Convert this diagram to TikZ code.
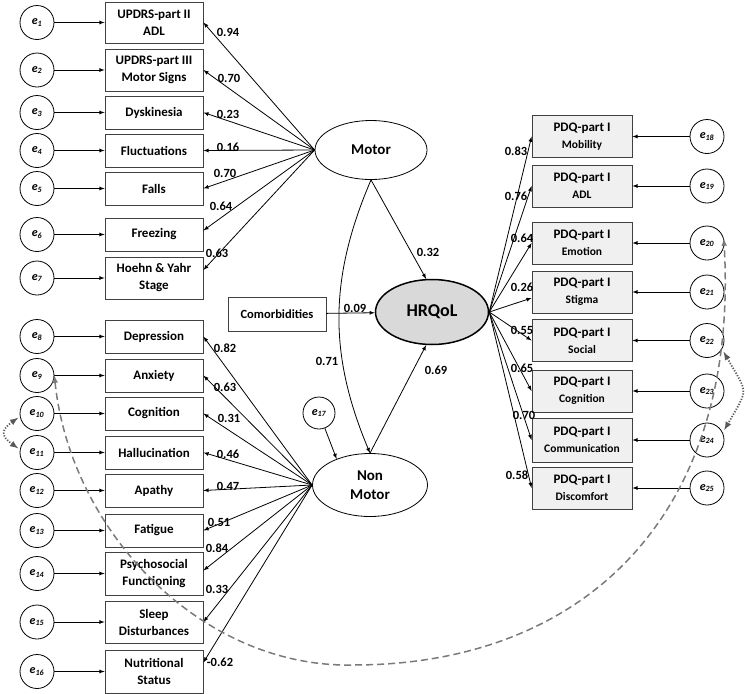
\documentclass[tikz,border=0pt]{standalone}
\usepackage{fontspec}
\setmainfont{Carlito}
\usetikzlibrary{shapes.geometric}
\tikzset{>=latex}
\tikzset{indicator/.style={draw=black!75, fill=white, minimum width=98pt, minimum height=33pt, align=center, inner sep=1pt, font=\bfseries\fontsize{13}{17}\selectfont}}
\tikzset{pdqbox/.style={indicator, fill=black!6, minimum width=100pt, minimum height=42pt}}
\tikzset{errterm/.style={draw, circle, fill=white, minimum size=34pt, inner sep=0pt, font=\bfseries\itshape\fontsize{12}{12}\selectfont}}
\tikzset{latent/.style={draw, ellipse, minimum width=112pt, minimum height=59pt, align=center, font=\bfseries\fontsize{15}{19}\selectfont}}
\tikzset{coef/.style={font=\bfseries\fontsize{12.5}{13}\selectfont, inner sep=0pt}}
\tikzset{residcov/.style={black!52, line width=1.5pt, dash pattern=on 7pt off 4pt}}
\tikzset{errcov/.style={black!65, line width=1.8pt, dash pattern=on 1.2pt off 1.6pt}}
\newcommand{\pdqitem}[1]{PDQ-part I\\{\fontsize{11.5}{13}\selectfont #1}}

\begin{document}
\begin{tikzpicture}[thick,x=1pt,y=-1pt]
      \useasboundingbox (0,0) rectangle (745,694);
      % motor indicators
      \node[indicator, minimum height=41pt] (adl) at (154,22.5) {UPDRS-part II\\ADL};
      \node[indicator, minimum height=42pt] (motorsigns) at (154,70) {UPDRS-part III\\Motor Signs};
      \node[indicator] (dysk) at (154,112.5) {Dyskinesia};
      \node[indicator] (fluct) at (154,150.5) {Fluctuations};
      \node[indicator] (falls) at (154,188.5) {Falls};
      \node[indicator] (freez) at (154,234.5) {Freezing};
      \node[indicator, minimum height=42pt] (hoehn) at (154,278) {Hoehn \& Yahr\\Stage};
      % non motor indicators
      \node[indicator] (depr) at (154,336.5) {Depression};
      \node[indicator] (anx) at (154,375.5) {Anxiety};
      \node[indicator] (cogn) at (154,413.5) {Cognition};
      \node[indicator] (halluc) at (154,452.5) {Hallucination};
      \node[indicator] (apathy) at (154,490.5) {Apathy};
      \node[indicator] (fatigue) at (154,530.5) {Fatigue};
      \node[indicator, minimum height=43pt] (psych) at (154,573.5) {Psychosocial\\Functioning};
      \node[indicator, minimum height=42pt] (sleep) at (154,622) {Sleep\\Disturbances};
      \node[indicator, minimum height=43pt] (nutri) at (154,671.5) {Nutritional\\Status};
      % left error terms
      \node[errterm] (e1) at (37,22.5) {e\textsubscript{1}};
      \node[errterm] (e2) at (37,70) {e\textsubscript{2}};
      \node[errterm] (e3) at (37,112.5) {e\textsubscript{3}};
      \node[errterm] (e4) at (37,150.5) {e\textsubscript{4}};
      \node[errterm] (e5) at (37,188.5) {e\textsubscript{5}};
      \node[errterm] (e6) at (37,234.5) {e\textsubscript{6}};
      \node[errterm] (e7) at (37,278) {e\textsubscript{7}};
      \node[errterm] (e8) at (37,336.5) {e\textsubscript{8}};
      \node[errterm] (e9) at (37,375.5) {e\textsubscript{9}};
      \node[errterm] (e10) at (37,413.5) {e\textsubscript{10}};
      \node[errterm] (e11) at (37,452.5) {e\textsubscript{11}};
      \node[errterm] (e12) at (37,490.5) {e\textsubscript{12}};
      \node[errterm] (e13) at (37,530.5) {e\textsubscript{13}};
      \node[errterm] (e14) at (37,573.5) {e\textsubscript{14}};
      \node[errterm] (e15) at (37,622) {e\textsubscript{15}};
      \node[errterm] (e16) at (37,671.5) {e\textsubscript{16}};
      % latent variables
      \node[latent] (motor) at (371,150) {Motor};
      \node[latent, minimum width=115pt, minimum height=63pt] (nonmotor) at (370,485) {Non\\Motor};
      \node[latent, fill=black!15, line width=1.5pt, minimum width=113pt, minimum height=65pt, font=\bfseries\fontsize{18}{20}\selectfont] (hrqol) at (432,312) {HRQoL};
      \node[indicator, minimum height=34pt, font=\bfseries\fontsize{12.5}{14}\selectfont] (comorb) at (277,314) {Comorbidities};
      \node[errterm, minimum size=32pt] (e17) at (319,413) {e\textsubscript{17}};
      % PDQ indicators
      \node[pdqbox] (mob) at (582,136.5) {\pdqitem{Mobility}};
      \node[pdqbox] (pdqadl) at (582,186) {\pdqitem{ADL}};
      \node[pdqbox] (emot) at (582,243) {\pdqitem{Emotion}};
      \node[pdqbox] (stig) at (582,292) {\pdqitem{Stigma}};
      \node[pdqbox] (soc) at (582,340.5) {\pdqitem{Social}};
      \node[pdqbox] (pdqcogn) at (582,391) {\pdqitem{Cognition}};
      \node[pdqbox, minimum height=44pt] (comm) at (582,440) {\pdqitem{Communication}};
      \node[pdqbox] (discomf) at (582,488) {\pdqitem{Discomfort}};
      % right error terms
      \node[errterm] (e18) at (707,136.5) {e\textsubscript{18}};
      \node[errterm] (e19) at (707,186) {e\textsubscript{19}};
      \node[errterm] (e20) at (707,243) {e\textsubscript{20}};
      \node[errterm] (e21) at (707,292) {e\textsubscript{21}};
      \node[errterm] (e22) at (707,340.5) {e\textsubscript{22}};
      \node[errterm] (e23) at (707,391) {e\textsubscript{23}};
      \node[errterm] (e24) at (707,440) {e\textsubscript{24}};
      \node[errterm] (e25) at (707,488) {e\textsubscript{25}};
      % error arrows
      \draw[->] (e1) -- (adl);
      \draw[->] (e2) -- (motorsigns);
      \draw[->] (e3) -- (dysk);
      \draw[->] (e4) -- (fluct);
      \draw[->] (e5) -- (falls);
      \draw[->] (e6) -- (freez);
      \draw[->] (e7) -- (hoehn);
      \draw[->] (e8) -- (depr);
      \draw[->] (e9) -- (anx);
      \draw[->] (e10) -- (cogn);
      \draw[->] (e11) -- (halluc);
      \draw[->] (e12) -- (apathy);
      \draw[->] (e13) -- (fatigue);
      \draw[->] (e14) -- (psych);
      \draw[->] (e15) -- (sleep);
      \draw[->] (e16) -- (nutri);
      \draw[->] (e18) -- (mob);
      \draw[->] (e19) -- (pdqadl);
      \draw[->] (e20) -- (emot);
      \draw[->] (e21) -- (stig);
      \draw[->] (e22) -- (soc);
      \draw[->] (e23) -- (pdqcogn);
      \draw[->] (e24) -- (comm);
      \draw[->] (e25) -- (discomf);
      \draw[->] (e17) -- (nonmotor.142);
      % loadings
      \draw[->] (motor.west) -- (adl.east);
      \draw[->] (motor.west) -- (motorsigns.east);
      \draw[->] (motor.west) -- (dysk.east);
      \draw[->] (motor.west) -- (fluct.east);
      \draw[->] (motor.west) -- (falls.east);
      \draw[->] (motor.west) -- ([yshift=4pt]freez.east);
      \draw[->] (motor.west) -- ([yshift=8pt]hoehn.east);
      \draw[->] (nonmotor.west) -- (depr.east);
      \draw[->] (nonmotor.west) -- (anx.east);
      \draw[->] (nonmotor.west) -- (cogn.east);
      \draw[->] (nonmotor.west) -- (halluc.east);
      \draw[->] (nonmotor.west) -- (apathy.east);
      \draw[->] (nonmotor.west) -- (fatigue.east);
      \draw[->] (nonmotor.west) -- ([yshift=3pt]psych.east);
      \draw[->] (nonmotor.west) -- (sleep.east);
      \draw[->] (nonmotor.west) -- ([yshift=9pt]nutri.east);
      \draw[->] (hrqol.east) -- (mob.west);
      \draw[->] (hrqol.east) -- (pdqadl.west);
      \draw[->] (hrqol.east) -- (emot.west);
      \draw[->] (hrqol.east) -- ([yshift=-6pt]stig.west);
      \draw[->] (hrqol.east) -- (soc.west);
      \draw[->] (hrqol.east) -- (pdqcogn.west);
      \draw[->] (hrqol.east) -- (comm.west);
      \draw[->] (hrqol.east) -- (discomf.west);
      % structural paths
      \draw[->] (motor.south) -- (hrqol.100);
      \draw[->] (motor.south) to[bend right=23] (nonmotor.north);
      \draw[->] (nonmotor.north) -- (hrqol.260);
      \draw[->] (comorb) -- (hrqol);
      % coefficients
      \node[coef] (k1) at (228,32) {0.94};
      \node[coef] (k2) at (229,78) {0.70};
      \node[coef] (k3) at (228,114) {0.23};
      \node[coef] (k4) at (228,147) {0.16};
      \node[coef] (k5) at (225,173) {0.70};
      \node[coef] (k6) at (221,206) {0.64};
      \node[coef] (k7) at (217,253) {0.63};
      \node[coef] (k8) at (225,348) {0.82};
      \node[coef] (k9) at (225,387) {0.63};
      \node[coef] (k10) at (229,418) {0.31};
      \node[coef] (k11) at (228,454) {0.46};
      \node[coef] (k12) at (228,486) {0.47};
      \node[coef] (k13) at (219,522) {0.51};
      \node[coef] (k14) at (217,548) {0.84};
      \node[coef] (k15) at (217,589) {0.33};
      \node[coef] (k16) at (220,662) {-0.62};
      \node[coef] (k17) at (516,151) {0.83};
      \node[coef] (k18) at (516,196) {0.76};
      \node[coef] (k19) at (522,238) {0.64};
      \node[coef] (k20) at (522,287) {0.26};
      \node[coef] (k21) at (522,330) {0.55};
      \node[coef] (k22) at (522,368) {0.65};
      \node[coef] (k23) at (524,415) {0.70};
      \node[coef] (k24) at (517,475) {0.58};
      \node[coef] (k25) at (428,252) {0.32};
      \node[coef] (k26) at (355,308) {0.09};
      \node[coef] (k27) at (327,361) {0.71};
      \node[coef] (k28) at (436,370) {0.69};
      % correlated errors
      \coordinate (dip) at (353,665);
      \draw[residcov,<->] (e9.east) .. controls (70,530) and (200,668) .. (dip)
            .. controls (580,665) and (740,520) .. (e20.15);
      \draw[errcov,<->,shorten <=2pt,shorten >=2pt] (e10.190) to[out=215,in=145,looseness=1.8] (e11.170);
      \draw[errcov,<->,shorten <=3pt,shorten >=3pt] (e22.-30) to[out=-60,in=60,looseness=1.6] (e24.25);
    \end{tikzpicture}
\end{document}
